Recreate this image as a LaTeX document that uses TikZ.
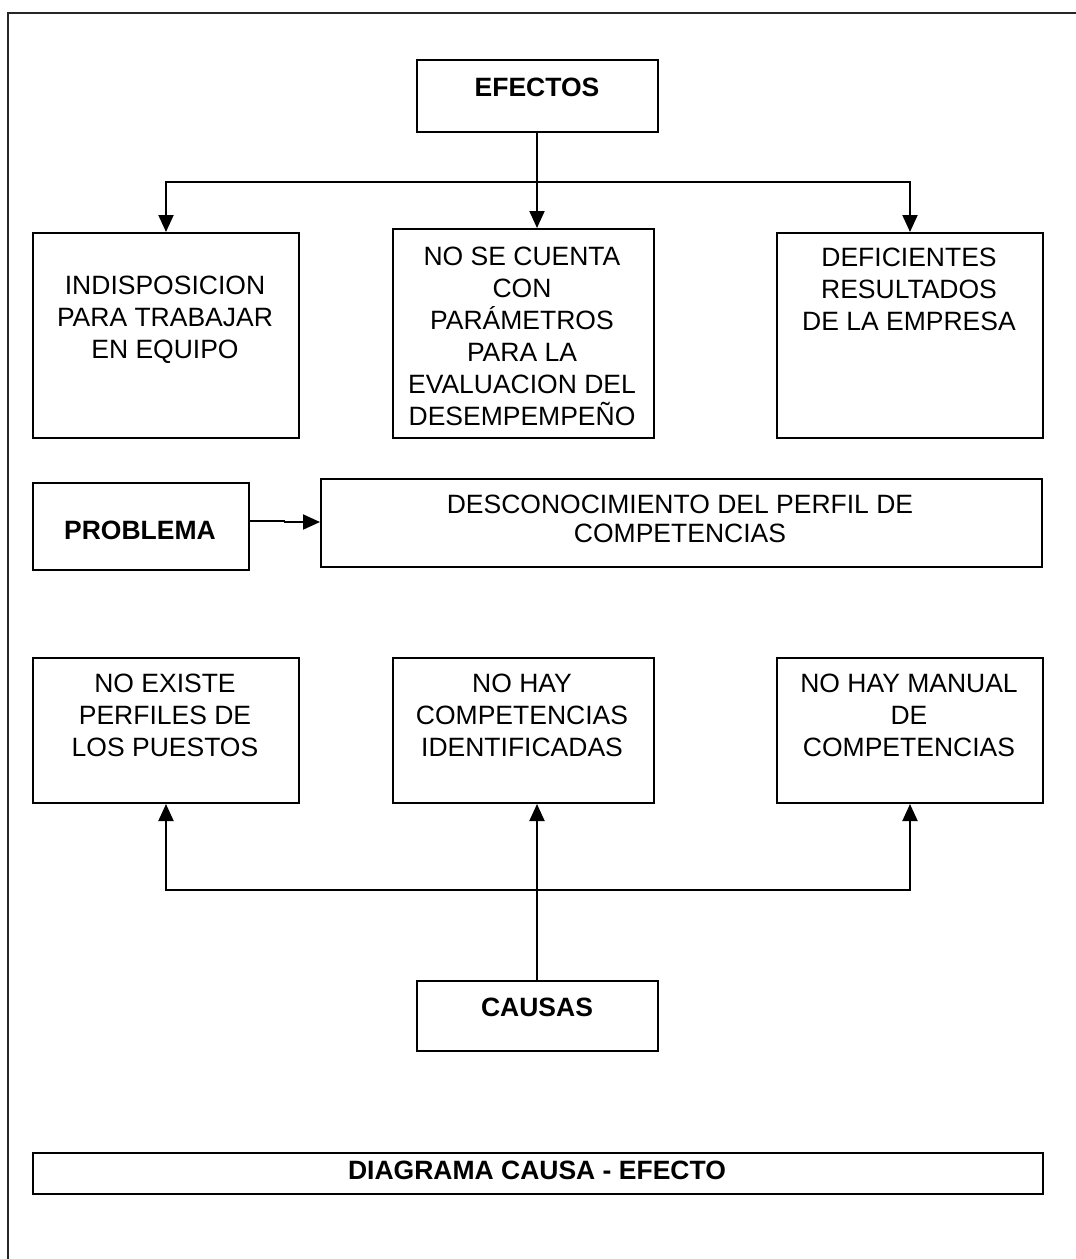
\documentclass[tikz,border=0pt]{standalone}
\usepackage{fontspec}
\setmainfont{Liberation Sans}
\usetikzlibrary{arrows.meta}
\begin{document}
\begin{tikzpicture}[x=1pt,y=-1pt,
  box/.style={draw, line width=2pt, inner sep=0pt, anchor=north west},
  txt/.style={align=center, font=\fontsize{26.5}{32}\selectfont, inner sep=0pt},
  btxt/.style={txt, font=\fontsize{26.5}{32}\selectfont\bfseries},
  link/.style={line width=2pt},
  arr/.style={link, -{Triangle[length=17pt,width=15pt]}}]
\useasboundingbox (0,0) rectangle (1076,1259);
% outer frame
\draw[line width=2.6pt, black!85] (8,1259) -- (8,13) -- (1076,13);
% boxes
\node[box, minimum width=241pt, minimum height=72pt] (ef) at (416,59) {};
\node[box, minimum width=266pt, minimum height=205pt] (e1) at (32,232) {};
\node[box, minimum width=261pt, minimum height=209pt] (e2) at (392,228) {};
\node[box, minimum width=266pt, minimum height=205pt] (e3) at (776,232) {};
\node[box, minimum width=216pt, minimum height=87pt] (pb) at (32,482) {};
\node[box, minimum width=721pt, minimum height=88pt] (pd) at (320,478) {};
\node[box, minimum width=266pt, minimum height=145pt] (c1) at (32,657) {};
\node[box, minimum width=261pt, minimum height=145pt] (c2) at (392,657) {};
\node[box, minimum width=266pt, minimum height=145pt] (c3) at (776,657) {};
\node[box, minimum width=241pt, minimum height=70pt] (ca) at (416,980) {};
\node[box, minimum width=1010pt, minimum height=41pt] (dg) at (32,1152) {};
% texts
\node[btxt] (tef) at (537,87) {EFECTOS};
\node[txt] (te1) at (165,320) {INDISPOSICION\\PARA TRABAJAR\\EN EQUIPO};
\node[txt] (te2) at (522,336) {NO SE CUENTA\\CON\\PARÁMETROS\\PARA LA\\EVALUACION DEL\\DESEMPEMPEÑO};
\node[txt] (te3) at (909,289) {DEFICIENTES\\RESULTADOS\\DE LA EMPRESA};
\node[btxt] (tpb) at (140,530) {PROBLEMA};
\node[txt, font=\fontsize{26.5}{29}\selectfont] (tpd) at (680,519) {DESCONOCIMIENTO DEL PERFIL DE\\COMPETENCIAS};
\node[txt] (tc1) at (165,715) {NO EXISTE\\PERFILES DE\\LOS PUESTOS};
\node[txt] (tc2) at (522,715) {NO HAY\\COMPETENCIAS\\IDENTIFICADAS};
\node[txt] (tc3) at (909,715) {NO HAY MANUAL\\DE\\COMPETENCIAS};
\node[btxt] (tca) at (537,1007) {CAUSAS};
\node[btxt] (tdg) at (537,1170) {DIAGRAMA CAUSA - EFECTO};
% effect connectors
\coordinate (top) at (537,182);
\draw[link] (ef.south -| top) -- (top);
\draw[arr] (top) -- (top |- e2.north);
\draw[arr] (top) -| (e1.north);
\draw[arr] (top) -| (e3.north);
% problem connector, with its small step halfway
\coordinate (pj) at (pb.east |- 0,521);
\coordinate (pk) at (284,521);
\draw[link] (pj) -- (pk) -- ++(0,1);
\draw[arr] (284,522) -- (pd.west |- 0,522);
% cause connectors
\coordinate (bot) at (537,890);
\draw[link] (ca.north -| bot) -- (bot);
\draw[arr] (bot) -- (bot |- c2.south);
\draw[arr] (bot) -| (c1.south);
\draw[arr] (bot) -| (c3.south);
\end{tikzpicture}
\end{document}
